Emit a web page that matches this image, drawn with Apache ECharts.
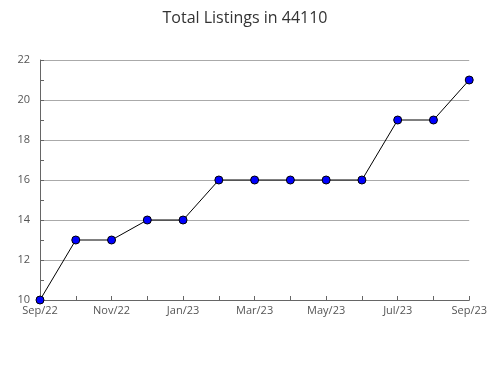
<!DOCTYPE html>
<html><head><meta charset="utf-8">
<script src="https://cdn.jsdelivr.net/npm/echarts@6/dist/echarts.min.js"></script>
<style>html,body{margin:0;padding:0;background:#fff}#c{width:490px;height:380px}</style>
</head><body><div id="c"></div>
<script>
const categories = ['Sep/22','Oct/22','Nov/22','Dec/22','Jan/23','Feb/23','Mar/23','Apr/23','May/23','Jun/23','Jul/23','Aug/23','Sep/23'];
const listings = [10, 13, 13, 14, 14, 16, 16, 16, 16, 16, 19, 19, 21];
const yTicks = { min: 10, max: 22, interval: 2 };
const chart = echarts.init(document.getElementById('c'));
chart.setOption({
  animation: false,
  title: { text: 'Total Listings in 44110', left: 'center', top: 5,
    textStyle: { fontFamily: 'Open Sans', fontSize: 16, fontWeight: 'normal', color: '#333' } },
  grid: { left: 40, right: 20, top: 60, bottom: 80 },
  xAxis: { type: 'category', data: categories, boundaryGap: false,
    axisLine: { lineStyle: { color: '#666' } },
    axisTick: { inside: true, length: 4, lineStyle: { color: '#666' }, interval: 0 },
    axisLabel: { interval: 1, color: '#555', fontFamily: 'Open Sans', fontSize: 11, margin: 5 },
    splitLine: { show: false } },
  yAxis: { type: 'value', min: yTicks.min, max: yTicks.max, interval: yTicks.interval,
    axisLine: { show: true, lineStyle: { color: '#666' } },
    axisTick: { show: true, inside: true, length: 4, lineStyle: { color: '#666' } },
    minorTick: { show: true, splitNumber: 2, length: 4, lineStyle: { color: '#666' } },
    axisLabel: { color: '#555', fontFamily: 'Open Sans', fontSize: 11, margin: 10 },
    splitLine: { show: true, lineStyle: { color: '#aaa', width: 1 } } },
  series: [{ type: 'line', data: listings, symbol: 'circle', symbolSize: 8,
    lineStyle: { color: '#000', width: 1 },
    itemStyle: { color: '#0000ff', borderColor: '#000', borderWidth: 1 } }]
});
</script></body></html>
